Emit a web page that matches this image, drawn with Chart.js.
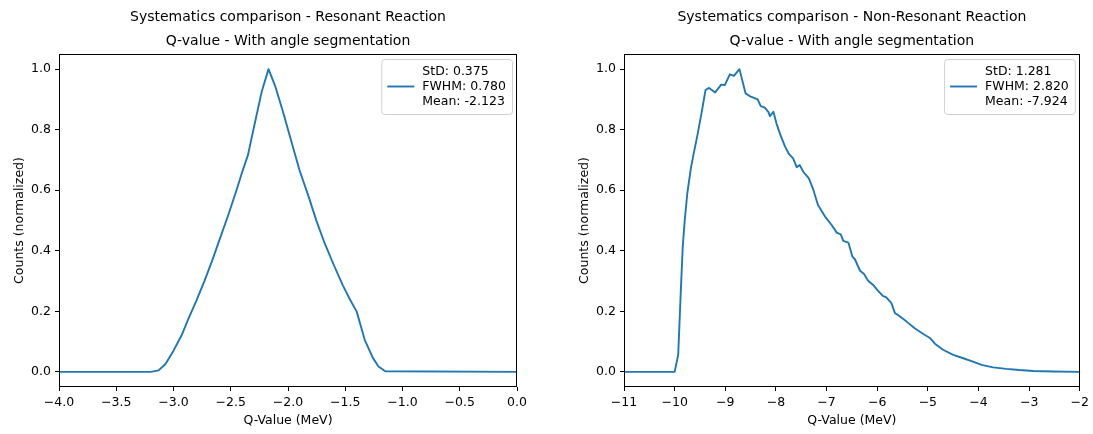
<!DOCTYPE html>
<html>
<head>
<meta charset="utf-8">
<script src="https://cdn.jsdelivr.net/npm/chart.js@4.4.1/dist/chart.umd.min.js"></script>
<style>
  html, body { margin: 0; padding: 0; background: #fff; }
  body { width: 1093px; height: 434px; position: relative; overflow: hidden; }
  .box { position: absolute; top: 0; height: 434px; }
  #left-box { left: 0; width: 546px; }
  #right-box { left: 565px; width: 528px; }
</style>
</head>
<body>
<div class="box" id="left-box"><canvas id="left-chart"></canvas></div>
<div class="box" id="right-box"><canvas id="right-chart"></canvas></div>
<script>
// Resonant reaction, Q-value histogram (normalized)
const RES_Q = [-4.0, -3.20, -3.13, -3.07, -3.00, -2.93, -2.87, -2.80, -2.73, -2.66, -2.59,
    -2.52, -2.45, -2.40, -2.35, -2.29, -2.23, -2.17, -2.11, -2.04, -1.97, -1.90, -1.82,
    -1.75, -1.68, -1.60, -1.52, -1.46, -1.40, -1.33, -1.26, -1.21, -1.15, 0.0];
const RES_COUNTS = [0, 0, 0.005, 0.026, 0.07, 0.12, 0.175, 0.235, 0.3, 0.37, 0.445,
    0.52, 0.6, 0.66, 0.716, 0.821, 0.925, 1.0, 0.942, 0.854, 0.76, 0.667, 0.579,
    0.497, 0.425, 0.353, 0.285, 0.24, 0.199, 0.106, 0.047, 0.018, 0.002, 0];
const RES_STATS = ['StD: 0.375', 'FWHM: 0.780', 'Mean: -2.123'];

// Non-resonant reaction
const NONRES_Q = [-11.0, -10.0, -9.93, -9.88, -9.84, -9.80, -9.75, -9.68, -9.63, -9.55,
    -9.47, -9.39, -9.32, -9.20, -9.08, -9.01, -8.91, -8.83, -8.72, -8.60, -8.52, -8.36,
    -8.30, -8.22, -8.15, -8.12, -8.05, -7.99, -7.91, -7.82, -7.74, -7.66, -7.59, -7.53,
    -7.46, -7.35, -7.26, -7.17, -7.03, -6.90, -6.80, -6.72, -6.67, -6.57, -6.49, -6.44,
    -6.34, -6.26, -6.18, -6.08, -6.00, -5.89, -5.82, -5.72, -5.65, -5.59, -5.42, -5.26,
    -5.09, -4.96, -4.86, -4.70, -4.50, -4.30, -4.11, -3.94, -3.71, -3.45, -3.19, -2.92,
    -2.53, -2.0];
const NONRES_COUNTS = [0, 0, 0.056, 0.26, 0.414, 0.502, 0.59, 0.672, 0.716, 0.782,
    0.854, 0.931, 0.938, 0.923, 0.949, 0.947, 0.983, 0.978, 1.0, 0.92, 0.911, 0.9,
    0.878, 0.873, 0.859, 0.845, 0.859, 0.821, 0.782, 0.744, 0.719, 0.705, 0.676, 0.683,
    0.661, 0.639, 0.601, 0.551, 0.513, 0.485, 0.46, 0.454, 0.433, 0.427, 0.381, 0.372,
    0.334, 0.323, 0.301, 0.287, 0.271, 0.251, 0.246, 0.227, 0.194, 0.188, 0.166, 0.144,
    0.125, 0.112, 0.093, 0.073, 0.056, 0.045, 0.034, 0.023, 0.015, 0.01, 0.006, 0.003,
    0.001, 0];
const NONRES_STATS = ['StD: 1.281', 'FWHM: 2.820', 'Mean: -7.924'];

const RES_X_TICKS = [-4.0, -3.5, -3.0, -2.5, -2.0, -1.5, -1.0, -0.5, 0.0];
const NONRES_X_TICKS = [-11, -10, -9, -8, -7, -6, -5, -4, -3, -2];
const Y_TICKS = [0.0, 0.2, 0.4, 0.6, 0.8, 1.0];

const FONT = "'DejaVu Sans', sans-serif";
const LINE_COLOR = '#1f77b4';

// frame around the plot + matplotlib-style legend box
const framePlugin = {
    id: 'frame',
    afterDraw(chart, args, opts) {
        const { ctx, chartArea: a } = chart;
        ctx.save();
        ctx.strokeStyle = '#000';
        ctx.lineWidth = 1;
        ctx.strokeRect(Math.round(a.left) + 0.5, Math.round(a.top) + 0.5,
            Math.round(a.right - a.left) - 1, Math.round(a.bottom - a.top) - 1);

        // legend
        const lines = opts.lines || [];
        ctx.font = '12.5px ' + FONT;
        const textW = Math.max(...lines.map(l => ctx.measureText(l).width));
        const lineH = 15;
        const w = 6 + 27 + 8 + textW + 6;
        const h = lines.length * lineH + 10;
        const x = a.right - 5 - w;
        const y = a.top + 5;
        ctx.beginPath();
        ctx.roundRect(x + 0.5, y + 0.5, w, h, 3);
        ctx.fillStyle = 'rgba(255,255,255,0.8)';
        ctx.fill();
        ctx.strokeStyle = '#d0d0d0';
        ctx.stroke();
        const midY = y + h / 2;
        ctx.beginPath();
        ctx.moveTo(x + 6, midY);
        ctx.lineTo(x + 33, midY);
        ctx.strokeStyle = LINE_COLOR;
        ctx.lineWidth = 1.9;
        ctx.stroke();
        ctx.fillStyle = '#000';
        ctx.textBaseline = 'middle';
        ctx.textAlign = 'left';
        lines.forEach((l, i) => {
            ctx.fillText(l, x + 41, midY + (i - (lines.length - 1) / 2) * lineH);
        });
        ctx.restore();
    }
};

function fmtMinus(v, digits) {
    const s = Math.abs(v).toFixed(digits);
    return (v < 0 ? '\u2212' : '') + s;
}

function makeChart(canvasId, qs, counts, stats, xTicks, xMin, xMax, xDigits, title, rightPad) {
    const ctx = document.getElementById(canvasId).getContext('2d');
    return new Chart(ctx, {
        type: 'line',
        data: {
            datasets: [{
                label: stats.join('\n'),
                data: qs.map((q, i) => ({ x: q, y: counts[i] })),
                borderColor: LINE_COLOR,
                borderWidth: 1.9,
                pointRadius: 0,
                tension: 0,
                fill: false,
                borderJoinStyle: 'round'
            }]
        },
        plugins: [framePlugin],
        options: {
            responsive: true,
            maintainAspectRatio: false,
            animation: false,
            layout: { padding: { left: 0, right: rightPad, top: 0, bottom: 0 } },
            plugins: {
                legend: { display: false },
                tooltip: { enabled: false },
                title: {
                    display: true,
                    fullSize: false,
                    text: title,
                    color: '#000',
                    font: { family: FONT, size: 14, weight: 'normal', lineHeight: 24 / 14 },
                    padding: { top: 5, bottom: 1 }
                },
                frame: { lines: stats }
            },
            scales: {
                x: {
                    type: 'linear',
                    min: xMin,
                    max: xMax,
                    afterBuildTicks: s => { s.ticks = xTicks.map(v => ({ value: v })); },
                    afterFit: s => { s.height = 47; },
                    ticks: {
                        color: '#000',
                        font: { family: FONT, size: 12.5 },
                        padding: 4,
                        maxRotation: 0,
                        autoSkip: false,
                        callback: v => fmtMinus(v, xDigits)
                    },
                    grid: { display: true, drawOnChartArea: false, drawTicks: true, tickLength: 4, color: '#000' },
                    border: { display: false },
                    title: {
                        display: true,
                        text: 'Q-Value (MeV)',
                        color: '#000',
                        font: { family: FONT, size: 12.5 },
                        padding: { top: 0, bottom: 6 }
                    }
                },
                y: {
                    type: 'linear',
                    min: -0.05,
                    max: 1.05,
                    afterBuildTicks: s => { s.ticks = Y_TICKS.map(v => ({ value: v })); },
                    afterFit: s => { s.width = 59; },
                    ticks: {
                        color: '#000',
                        font: { family: FONT, size: 12.5 },
                        padding: 4,
                        callback: v => v.toFixed(1)
                    },
                    grid: { display: true, drawOnChartArea: false, drawTicks: true, tickLength: 4, color: '#000' },
                    border: { display: false },
                    title: {
                        display: true,
                        text: 'Counts (normalized)',
                        color: '#000',
                        font: { family: FONT, size: 12.5 },
                        padding: { top: 12, bottom: 0 }
                    }
                }
            }
        }
    });
}

makeChart('left-chart', RES_Q, RES_COUNTS, RES_STATS, RES_X_TICKS, -4, 0, 1,
    ['Systematics comparison - Resonant Reaction', 'Q-value - With angle segmentation'], 29);
makeChart('right-chart', NONRES_Q, NONRES_COUNTS, NONRES_STATS, NONRES_X_TICKS, -11, -2, 0,
    ['Systematics comparison - Non-Resonant Reaction', 'Q-value - With angle segmentation'], 13);
</script>
</body>
</html>
